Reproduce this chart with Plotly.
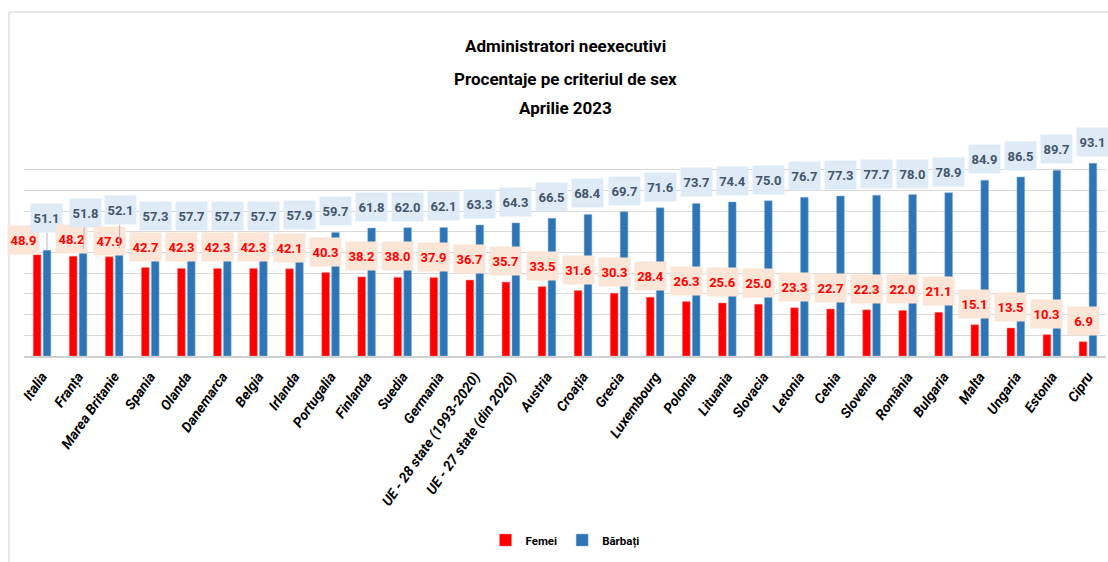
import plotly.graph_objects as go

categories = ["Italia", "Franța", "Marea Britanie", "Spania", "Olanda", "Danemarca",
              "Belgia", "Irlanda", "Portugalia", "Finlanda", "Suedia", "Germania",
              "UE - 28 state (1993-2020)", "UE - 27 state (din 2020)", "Austria",
              "Croația", "Grecia", "Luxembourg", "Polonia", "Lituania", "Slovacia",
              "Letonia", "Cehia", "Slovenia", "România", "Bulgaria", "Malta",
              "Ungaria", "Estonia", "Cipru"]
femei = [48.9, 48.2, 47.9, 42.7, 42.3, 42.3, 42.3, 42.1, 40.3, 38.2, 38.0, 37.9,
         36.7, 35.7, 33.5, 31.6, 30.3, 28.4, 26.3, 25.6, 25.0, 23.3, 22.7, 22.3,
         22.0, 21.1, 15.1, 13.5, 10.3, 6.9]
barbati = [51.1, 51.8, 52.1, 57.3, 57.7, 57.7, 57.7, 57.9, 59.7, 61.8, 62.0, 62.1,
           63.3, 64.3, 66.5, 68.4, 69.7, 71.6, 73.7, 74.4, 75.0, 76.7, 77.3, 77.7,
           78.0, 78.9, 84.9, 86.5, 89.7, 93.1]
title_lines = ["Administratori neexecutivi", "Procentaje pe criteriul de sex", "Aprilie 2023"]

FONT = "Roboto, Liberation Sans, sans-serif"
RED = "#FF0000"
BLUE = "#2E75B6"
BARGAP = 0.45
half = (1 - BARGAP) / 4  # centre offset of each bar in a group

fig = go.Figure()
fig.add_trace(go.Bar(name="Femei", x=categories, y=femei, marker_color=RED,
                     marker_line=dict(color="#FF7F7F", width=0.5)))
fig.add_trace(go.Bar(name="Bărbați", x=categories, y=barbati, marker_color=BLUE,
                     marker_line=dict(color="#8FB4DC", width=0.5)))

# label nudges for the crowded first groups (dx px, dy px)
red_nudge = {0: (-14, -6), 1: (-2, -4), 2: (0, -5)}
blue_arrow = {0: (0, -32), 1: (2, -36), 2: (1, -38)}

lab_red = dict(family=FONT, size=13, color=RED, weight="bold")
lab_blue = dict(family=FONT, size=13, color="#44546A", weight="bold")

annotations = []
for i, (f, b) in enumerate(zip(femei, barbati)):
    dx, dy = red_nudge.get(i, (0, 0))
    annotations.append(dict(
        x=i - half, y=f, xref="x", yref="y", text=f"{f:.1f}", showarrow=False,
        yanchor="bottom", yshift=6 + dy, xshift=dx, width=29, height=26,
        bgcolor="#FBE5D6", font=lab_red))
    if i in blue_arrow:
        ax, ay = blue_arrow[i]
        annotations.append(dict(
            x=i + half, y=b, xref="x", yref="y", text=f"{b:.1f}", showarrow=True,
            arrowhead=0, arrowwidth=0.8, arrowcolor="#A6A6A6", ax=ax, ay=ay,
            width=29, height=26, bgcolor="#DEEBF7", font=lab_blue))
    else:
        annotations.append(dict(
            x=i + half, y=b, xref="x", yref="y", text=f"{b:.1f}", showarrow=False,
            yanchor="bottom", yshift=6, width=29, height=26, bgcolor="#DEEBF7",
            font=lab_blue))

for line, ypos in zip(title_lines, [1.497, 1.338, 1.198]):
    annotations.append(dict(
        x=0.5, y=ypos, xref="paper", yref="paper", text=line, showarrow=False,
        xanchor="center", yanchor="middle",
        font=dict(family=FONT, size=17, color="#000000", weight="bold")))

frame = dict(color="#E0E0E0", width=1.5)
fig.update_layout(
    width=1108, height=562,
    margin=dict(l=24, r=2, t=149, b=206, autoexpand=False),
    paper_bgcolor="white", plot_bgcolor="white",
    barmode="group", bargap=BARGAP, bargroupgap=0.22,
    showlegend=True,
    legend=dict(orientation="h", x=0.5, xanchor="center",
                yref="container", y=0.039, yanchor="middle",
                font=dict(family=FONT, size=11.5, color="#000000", weight="bold"),
                itemwidth=30, tracegroupgap=0),
    annotations=annotations,
    xaxis=dict(type="category", range=[-0.5, len(categories) - 0.5],
               tickangle=-55, showgrid=False, showline=True,
               automargin=False, ticklabelstandoff=5,
               linecolor="#D0D0D0", linewidth=1.5, ticks="",
               tickfont=dict(family=FONT, size=14, color="#000000",
                             weight="bold", style="italic")),
    yaxis=dict(range=[0, 100], dtick=10, showticklabels=False, showgrid=True,
               automargin=False,
               gridcolor="#D9D9D9", gridwidth=1, zeroline=False, ticks=""),
    shapes=[
        dict(type="line", xref="paper", yref="paper", x0=-0.0139, x1=-0.0139,
             y0=-1.0, y1=1.662, line=frame),
        dict(type="line", xref="paper", yref="paper", x0=-0.0139, x1=1.01,
             y0=1.662, y1=1.662, line=frame),
    ],
)

fig.write_html("out.html", config={"displayModeBar": False},
               post_script="document.body.style.margin='0px';")
